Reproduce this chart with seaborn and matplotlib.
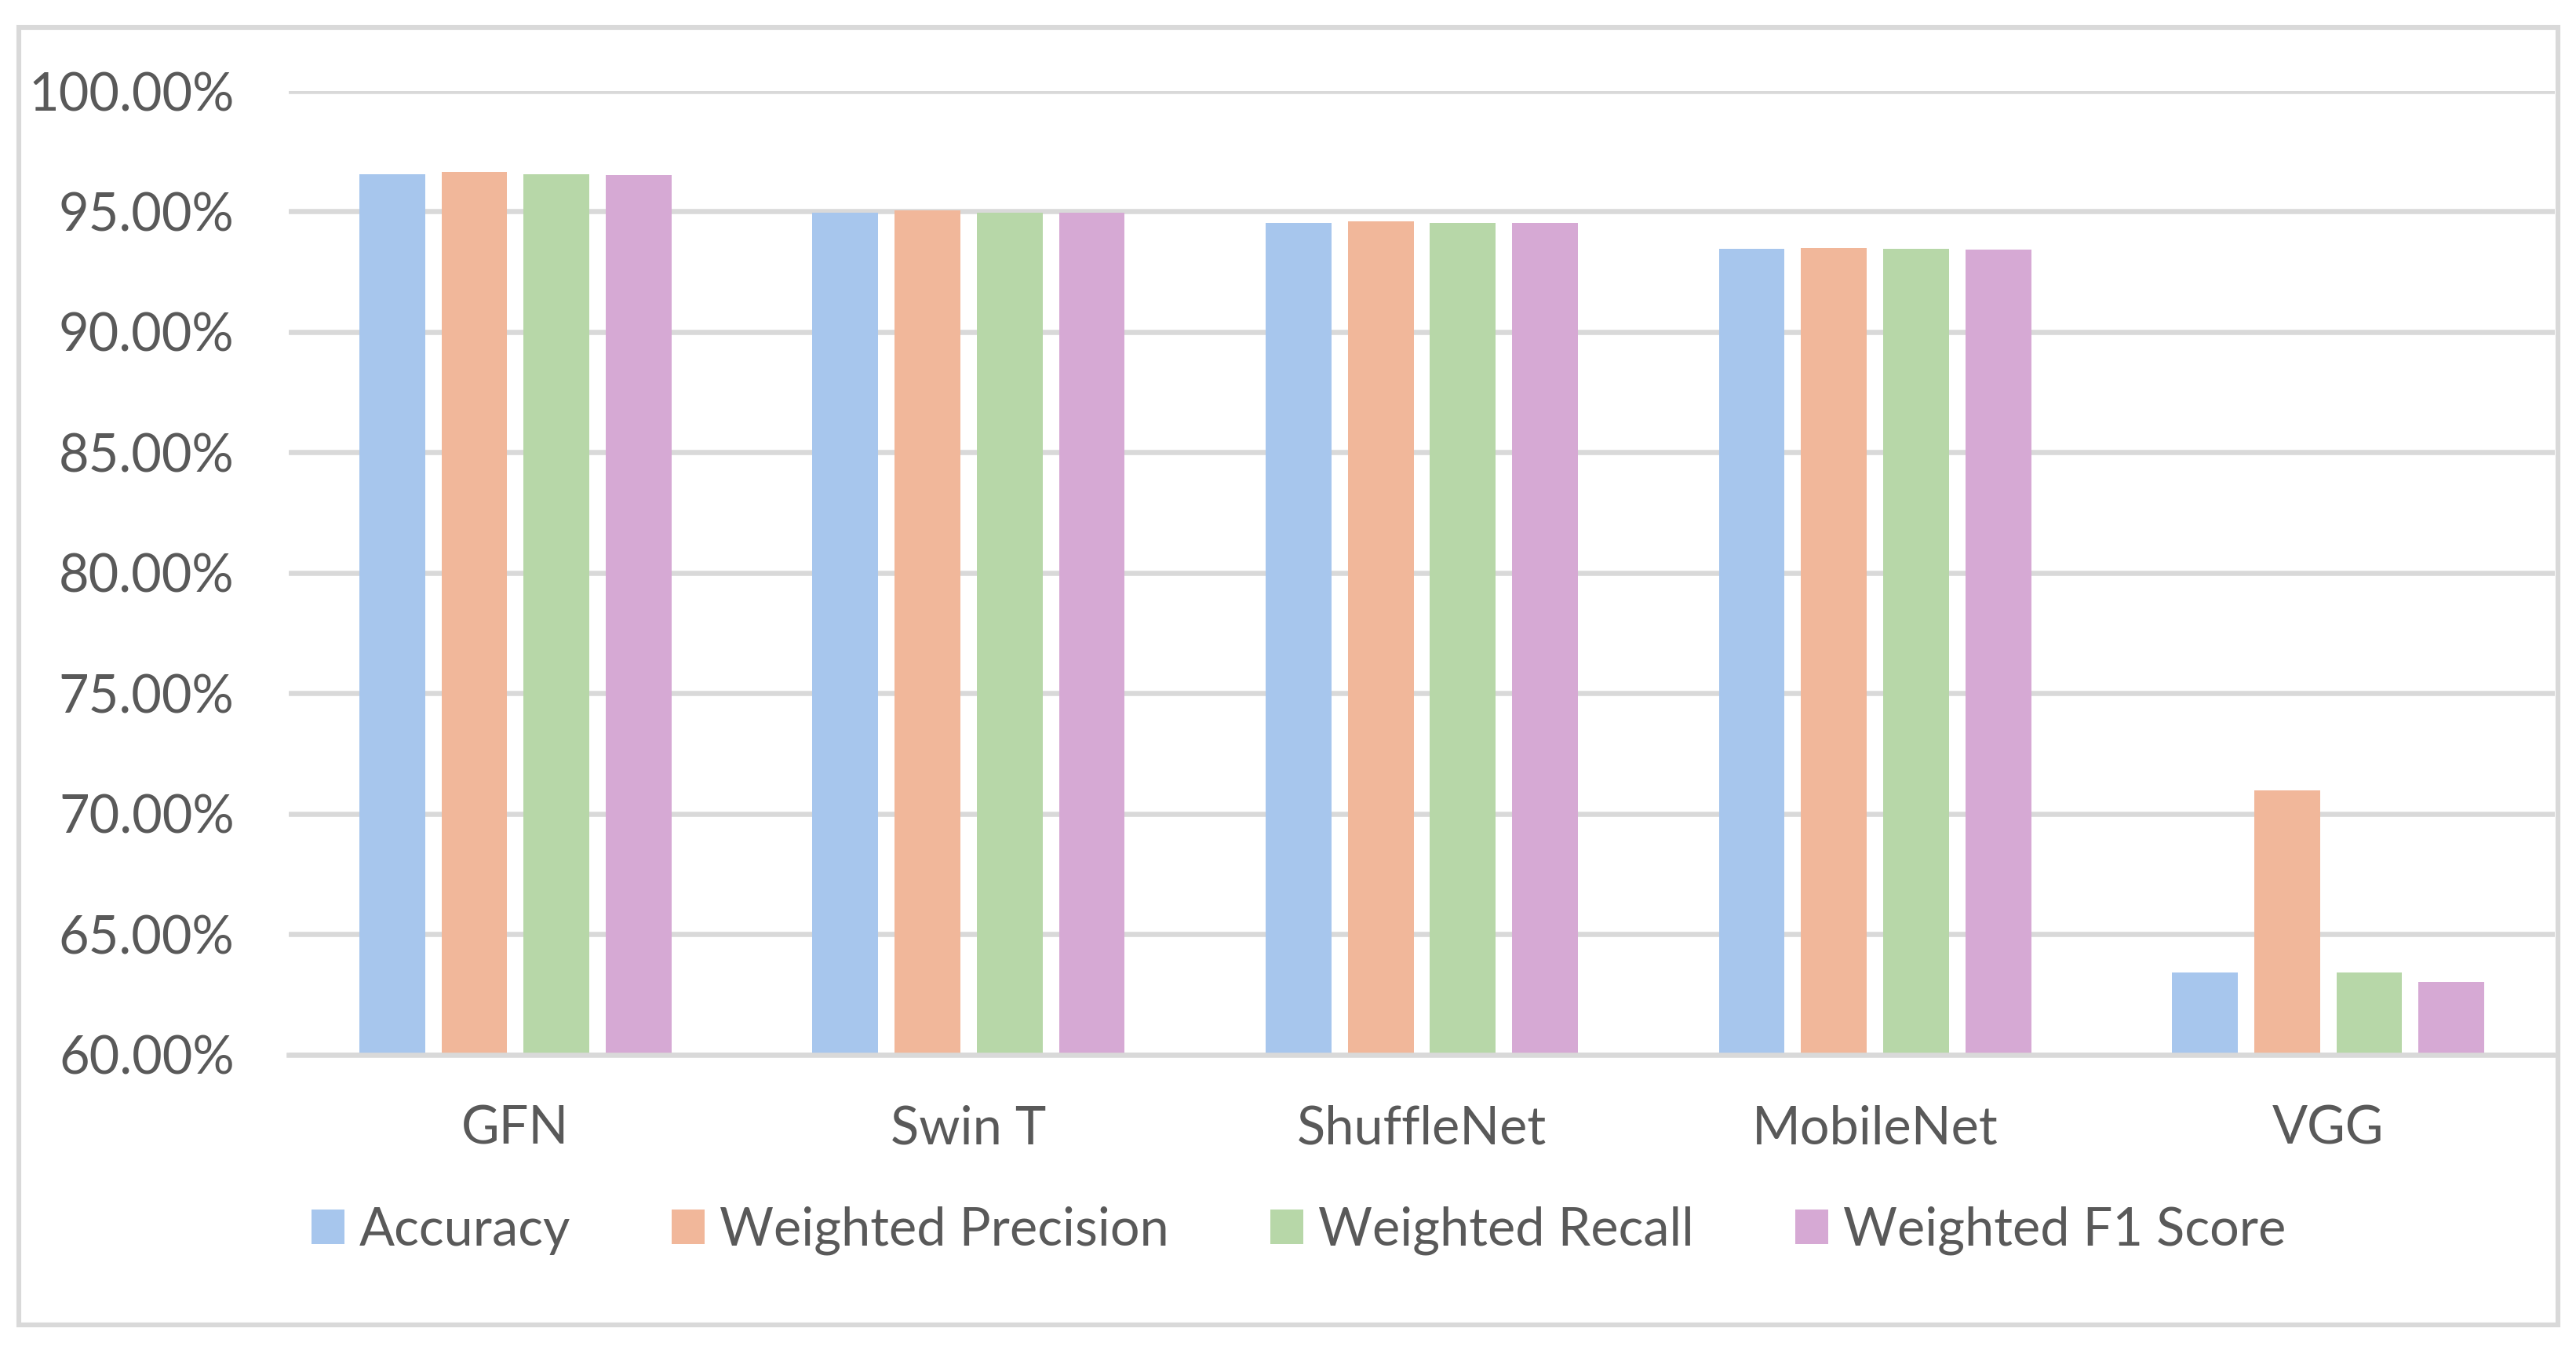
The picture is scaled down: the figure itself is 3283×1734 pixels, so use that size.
import numpy as np
import pandas as pd
import matplotlib
matplotlib.use('Agg')
import matplotlib.pyplot as plt
from matplotlib.patches import Patch, Rectangle
from matplotlib.ticker import FuncFormatter
import seaborn as sns

# values (percent)
models = ['GFN', 'Swin T', 'ShuffleNet', 'MobileNet', 'VGG']
metrics = ['Accuracy', 'Weighted Precision', 'Weighted Recall', 'Weighted F1 Score']
accuracy = [96.55, 94.95, 94.53, 93.45, 63.40]
precision = [96.65, 95.05, 94.59, 93.49, 70.96]
recall = [96.55, 94.95, 94.53, 93.45, 63.40]
f1_score = [96.52, 94.95, 94.53, 93.42, 63.01]
colors = ['#A7C6ED', '#F1B79A', '#B7D7A8', '#D6A9D4']

df = pd.DataFrame({
    'Model': models * 4,
    'Metric': np.repeat(metrics, len(models)),
    'Value': accuracy + precision + recall + f1_score,
})

sns.set_style('white')
plt.rcParams['font.family'] = ['Lato', 'DejaVu Sans']

W, H = 3283, 1734
dpi = 200
fig = plt.figure(figsize=(W / dpi, H / dpi), dpi=dpi)
ax = fig.add_axes([368 / W, 1 - 1343.5 / H, (3256 - 368) / W, (1343.5 - 116) / H])

sns.barplot(data=df, x='Model', y='Value', hue='Metric', order=models,
            hue_order=metrics, palette=colors, saturation=1, width=0.725, gap=0.2,
            linewidth=0, errorbar=None, legend=False, ax=ax)

grey = '#D9D9D9'
txt = '#595959'
ax.set_ylim(60, 100)
ax.set_xlim(-0.5, 4.5)
ax.set_yticks(np.arange(60, 101, 5))
ax.yaxis.set_major_formatter(FuncFormatter(lambda v, p: f'{v:.2f}%'))
ax.set_axisbelow(True)
ax.yaxis.grid(True, color=grey, linewidth=2.35)
ax.xaxis.grid(False)
for s in ['top', 'left', 'right']:
    ax.spines[s].set_visible(False)
ax.spines['bottom'].set_color(grey)
ax.spines['bottom'].set_linewidth(2.35)
ax.spines['bottom'].set_zorder(3)
ax.tick_params(axis='both', length=0, labelsize=24, labelcolor=txt)
ax.tick_params(axis='y', pad=25)
ax.tick_params(axis='x', pad=23)
ax.set_xlabel('')
ax.set_ylabel('')

handles = [Patch(facecolor=c, edgecolor='none') for c in colors]
fig.legend(handles, metrics, loc='center', bbox_to_anchor=(1655 / W, 1 - 1568 / H),
           ncol=4, frameon=False, fontsize=24, labelcolor=txt,
           handlelength=0.63, handleheight=0.63, handletextpad=0.29,
           columnspacing=1.93, borderpad=0, borderaxespad=0)

# chart border
fig.patches.append(Rectangle((24 / W, 1 - 1688 / H), (3259.5 - 24) / W, (1688 - 35) / H,
                             transform=fig.transFigure, fill=False,
                             edgecolor=grey, linewidth=2.2, zorder=0))

fig.savefig('out.png', dpi=dpi, facecolor='white')
